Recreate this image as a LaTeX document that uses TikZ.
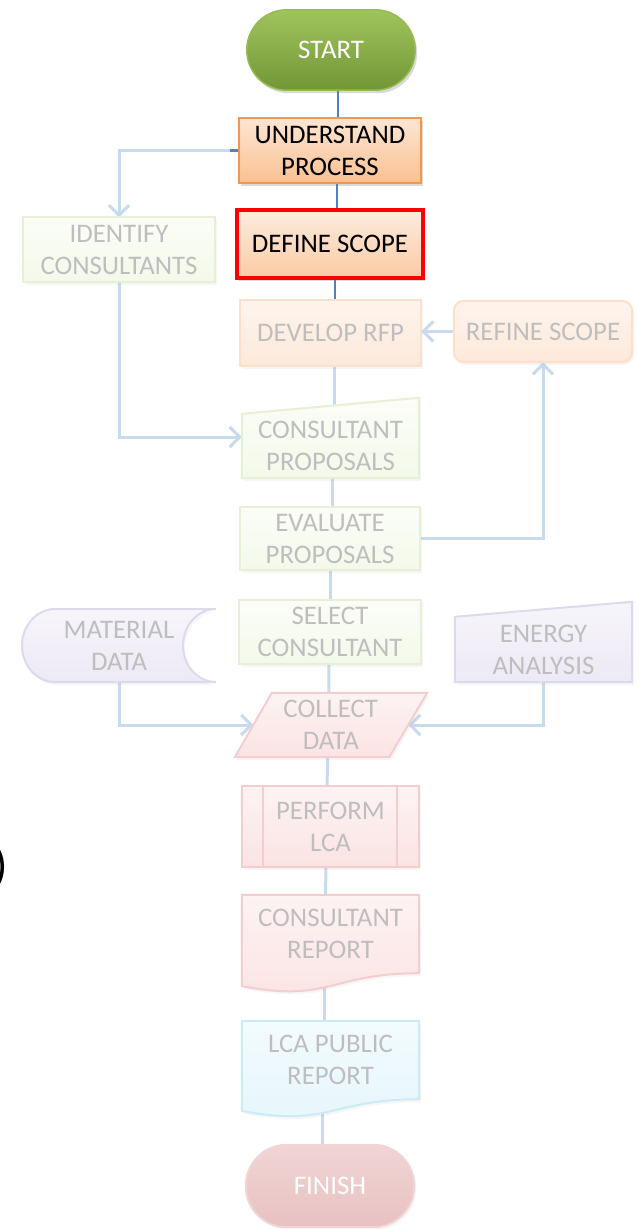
\documentclass[tikz,border=0pt]{standalone}
\usepackage{fontspec}
\setmainfont{Carlito}
\usetikzlibrary{arrows.meta,shadows,calc}
\pgfdeclarelayer{lines}
\pgfdeclarelayer{shapes}
\pgfsetlayers{lines,shapes,main}
\definecolor{dkline}{RGB}{79,129,189}
\definecolor{ltline}{RGB}{200,218,238}
\definecolor{ftext}{RGB}{190,190,190}
\definecolor{startT}{RGB}{160,196,92}
\definecolor{startB}{RGB}{114,150,54}
\definecolor{startD}{RGB}{150,188,80}
\definecolor{orD}{RGB}{247,150,70}
\definecolor{orT}{RGB}{253,230,212}
\definecolor{orB}{RGB}{250,192,145}
\definecolor{defT}{RGB}{253,236,222}
\definecolor{defB}{RGB}{251,202,164}
\definecolor{forD}{RGB}{252,224,204}
\definecolor{forT}{RGB}{254,244,237}
\definecolor{forB}{RGB}{253,233,218}
\definecolor{fgrD}{RGB}{230,240,214}
\definecolor{fgrT}{RGB}{251,253,247}
\definecolor{fgrB}{RGB}{243,249,234}
\definecolor{fpuD}{RGB}{223,217,236}
\definecolor{fpuT}{RGB}{247,245,251}
\definecolor{fpuB}{RGB}{237,233,245}
\definecolor{frdD}{RGB}{244,206,206}
\definecolor{frdT}{RGB}{253,243,243}
\definecolor{frdB}{RGB}{251,227,227}
\definecolor{fbuD}{RGB}{203,235,246}
\definecolor{fbuT}{RGB}{243,251,254}
\definecolor{fbuB}{RGB}{229,246,252}
\definecolor{finD}{RGB}{241,212,212}
\definecolor{finT}{RGB}{241,212,212}
\definecolor{finB}{RGB}{232,193,193}
\tikzset{
  txt/.style={align=center,font=\fontsize{26.8pt}{32pt}\selectfont,inner sep=0pt},
  ftxt/.style={txt,text=ftext},
  ln/.style={line width=3pt,ltline},
  dln/.style={line width=2.5pt,dkline},
  arr/.style={-{Straight Barb[length=10pt,width=20pt]}},
  shA/.style={drop shadow={opacity=0.3,shadow xshift=2pt,shadow yshift=-3pt}},
  shF/.style={drop shadow={opacity=0.07,shadow xshift=2pt,shadow yshift=-3pt}},
  forange/.style={draw=forD,line width=2pt,top color=forT,bottom color=forB,shF},
  fgreen/.style={draw=fgrD,line width=2pt,top color=fgrT,bottom color=fgrB,shF},
  fpurple/.style={draw=fpuD,line width=2pt,top color=fpuT,bottom color=fpuB,shF},
  fred/.style={draw=frdD,line width=2pt,top color=frdT,bottom color=frdB,shF},
  fblue/.style={draw=fbuD,line width=2pt,top color=fbuT,bottom color=fbuB,shF},
}
\begin{document}
\begin{tikzpicture}[x=1pt,y=-1pt]
\useasboundingbox (0,0) rectangle (638,1229);
% ---- nodes (text) ----
\node[txt,text=white,minimum width=168pt,minimum height=80pt] (start) at (331,50) {START};
\node[txt,minimum width=182pt,minimum height=65pt] (und) at (330,150.5) {UNDERSTAND\\PROCESS};
\node[txt,minimum width=186pt,minimum height=68pt] (def) at (330,244) {DEFINE SCOPE};
\node[ftxt,minimum width=192pt,minimum height=64pt] (idc) at (119,249.5) {IDENTIFY\\CONSULTANTS};
\node[ftxt,minimum width=181pt,minimum height=65pt] (dev) at (330.5,333) {DEVELOP RFP};
\node[ftxt,minimum width=178pt,minimum height=61pt] (ref) at (543,331.5) {REFINE SCOPE};
\node[ftxt,minimum width=177pt,minimum height=64pt] (cp) at (330.5,446) {CONSULTANT\\PROPOSALS};
\node[ftxt,minimum width=180pt,minimum height=63pt] (eva) at (330,538.5) {EVALUATE\\PROPOSALS};
\node[ftxt,minimum width=181pt,minimum height=64pt] (sel) at (330,632) {SELECT\\CONSULTANT};
\node[ftxt,minimum width=194pt,minimum height=73pt] (mat) at (119,645.5) {MATERIAL\\DATA};
\node[ftxt,minimum width=177pt,minimum height=65pt] (ene) at (543.5,649.5) {ENERGY\\ANALYSIS};
\node[ftxt,minimum width=154.5pt,minimum height=64pt] (col) at (330.75,725) {COLLECT\\DATA};
\node[ftxt,minimum width=177pt,minimum height=81pt] (per) at (330.5,826.5) {PERFORM\\LCA};
\node[ftxt,minimum width=177pt,minimum height=78pt] (crep) at (330.5,934) {CONSULTANT\\REPORT};
\node[ftxt,minimum width=177pt,minimum height=78pt] (lcap) at (330.5,1060) {LCA PUBLIC\\REPORT};
\node[txt,text=white,minimum width=168pt,minimum height=82pt] (fin) at (330,1186) {FINISH};
\node[font=\fontsize{48pt}{48pt}\selectfont,inner sep=0pt,anchor=east] (paren) at (8,867) {)};
% ---- shapes ----
\begin{pgfonlayer}{shapes}
\path[draw=startD,line width=1.5pt,top color=startT,bottom color=startB,rounded corners=39.9pt,shA]
  (start.south west) rectangle (start.north east);
\path[draw=orD,line width=2pt,top color=orT,bottom color=orB,shA] (und.south west) rectangle (und.north east);
\path[draw=red,line width=4.5pt,top color=defT,bottom color=defB,shA] (def.south west) rectangle (def.north east);
\path[fgreen] (idc.south west) rectangle (idc.north east);
\path[forange] (dev.south west) rectangle (dev.north east);
\path[forange,rounded corners=10pt] (ref.south west) rectangle (ref.north east);
\path[fgreen] (cp.south west) -- (cp.north west) -- ([yshift=16pt]cp.north east) -- (cp.south east) -- cycle;
\path[fgreen] (eva.south west) rectangle (eva.north east);
\path[fgreen] (sel.south west) rectangle (sel.north east);
\path[fpurple] (216,609) -- (55,609) .. controls (36.8,609) and (22,625.3) .. (22,645.5)
  .. controls (22,665.7) and (36.8,682) .. (55,682) -- (216,682)
  .. controls (197.8,682) and (183,665.7) .. (183,645.5)
  .. controls (183,625.3) and (197.8,609) .. (216,609) -- cycle;
\path[fpurple] (ene.south west) -- (ene.north west) -- ([yshift=15pt]ene.north east) -- (ene.south east) -- cycle;
\path[fred] ([xshift=18.5pt]col.north west) -- ([xshift=19pt]col.north east) -- ([xshift=-19pt]col.south east) -- ([xshift=-18.5pt]col.south west) -- cycle;
\path[fred] (per.south west) rectangle (per.north east);
\draw[draw=frdD,line width=2pt] ([xshift=21pt]per.north west) -- ([xshift=21pt]per.south west);
\draw[draw=frdD,line width=2pt] ([xshift=-22pt]per.north east) -- ([xshift=-22pt]per.south east);
\path[fred] (crep.north west) -- (crep.north east) -- (crep.south east)
  .. controls (crep.south) and ([yshift=-29.8pt]crep.south) .. ([yshift=-12.9pt]crep.south west) -- cycle;
\path[fblue] (lcap.north west) -- (lcap.north east) -- (lcap.south east)
  .. controls (lcap.south) and ([yshift=-28.3pt]lcap.south) .. ([yshift=-11.7pt]lcap.south west) -- cycle;
\path[draw=finD,line width=2pt,top color=finT,bottom color=finB,rounded corners=40.9pt,shF]
  (fin.south west) rectangle (fin.north east);
\end{pgfonlayer}
% ---- connectors ----
\begin{pgfonlayer}{lines}
\draw[ln,arr] (und.west) -| (idc.north);
\draw[dln] (und.west) -- ++(-9,0);
\draw[dln] ([xshift=7pt]start.south) -- ([xshift=8pt]und.north);
\draw[dln] ([xshift=7pt]und.south) -- ([xshift=7pt]def.north);
\draw[dln] ([xshift=5pt]def.south) -- ([xshift=4.5pt]dev.north);
\draw[ln] ([xshift=3.5pt]dev.south) -- ([xshift=3.5pt]cp.north);
\draw[ln] ([xshift=1.5pt]cp.south) -- ([xshift=2pt]eva.north);
\draw[ln] (eva.south) -- (sel.north);
\draw[ln] ([xshift=-1pt]sel.south) -- ([xshift=-2pt]col.north);
\draw[ln] ([xshift=-3pt]col.south) -- ([xshift=-3.5pt]per.north);
\draw[ln] ([xshift=-4.5pt]per.south) -- ([xshift=-5pt]crep.north);
\draw[ln] ([xshift=-6.5pt]crep.south) -- ([xshift=-6.5pt]lcap.north);
\draw[ln] ([xshift=-8.5pt]lcap.south) -- ([xshift=-8pt]fin.north);
\draw[ln,arr] (idc.south) |- ([yshift=9pt]cp.west);
\draw[ln,arr] (ref.west) -- (ref.west -| dev.east);
\draw[ln,arr] (eva.east) -| (ref.south);
\draw[ln,arr] (mat.south) |- (col.west);
\draw[ln,arr] (ene.south) |- (col.east);
\end{pgfonlayer}
\end{tikzpicture}
\end{document}
